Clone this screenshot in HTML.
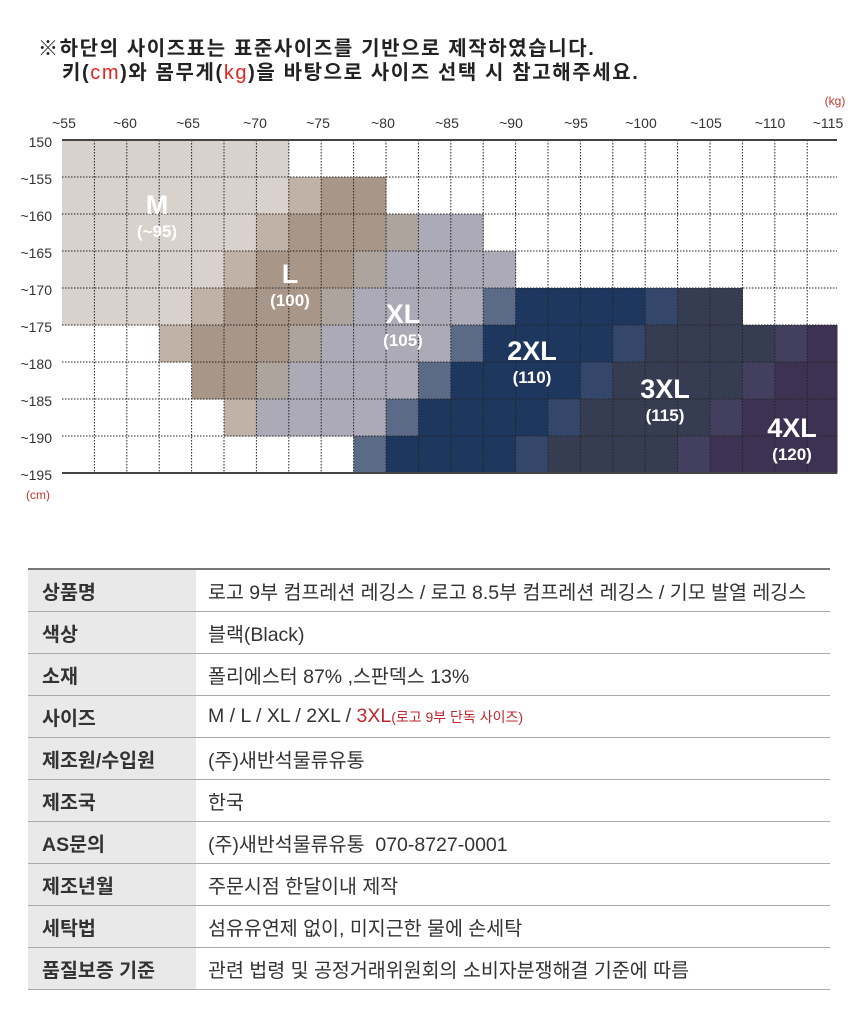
<!DOCTYPE html>
<html><head><meta charset="utf-8"><style>
body{margin:0;width:860px;height:1020px;background:#fff;font-family:"Liberation Sans","Noto Sans CJK KR",sans-serif;position:relative;overflow:hidden}
.h{position:absolute;font-size:20px;font-weight:bold;color:#222;white-space:nowrap;letter-spacing:1.6px}
.r{color:#e8231f;font-weight:normal}
table{position:absolute;left:28px;top:568px;width:802px;border-collapse:collapse;font-size:19.5px;color:#333;table-layout:fixed}
td{height:41px;border-bottom:1px solid #aaa;padding:0;white-space:nowrap}
td.l{background:#e9e9e9;padding-left:14px;font-weight:bold;color:#333}
td.v{padding-left:12px}
tr:first-child td{border-top:2px solid #777}
</style></head><body>
<div class="h" style="left:38px;top:32px">※하단의 사이즈표는 표준사이즈를 기반으로 제작하였습니다.</div>
<div class="h" style="left:62px;top:56px">키(<span class="r">cm</span>)와 몸무게(<span class="r">kg</span>)을 바탕으로 사이즈 선택 시 참고해주세요.</div>
<svg id="s" width="860" height="520" style="position:absolute;left:0;top:0" font-family="Liberation Sans, sans-serif"></svg>
<table>
<colgroup><col style="width:168px"><col></colgroup>
<tr><td class="l">상품명</td><td class="v">로고 9부 컴프레션 레깅스 / 로고 8.5부 컴프레션 레깅스 / 기모 발열 레깅스</td></tr>
<tr><td class="l">색상</td><td class="v">블랙(Black)</td></tr>
<tr><td class="l">소재</td><td class="v">폴리에스터 87% ,스판덱스 13%</td></tr>
<tr><td class="l">사이즈</td><td class="v">M / L / XL / 2XL / <span style="color:#c0272d">3XL<span style="font-size:14px">(로고 9부 단독 사이즈)</span></span></td></tr>
<tr><td class="l">제조원/수입원</td><td class="v">(주)새반석물류유통</td></tr>
<tr><td class="l">제조국</td><td class="v">한국</td></tr>
<tr><td class="l">AS문의</td><td class="v">(주)새반석물류유통&nbsp; 070-8727-0001</td></tr>
<tr><td class="l">제조년월</td><td class="v">주문시점 한달이내 제작</td></tr>
<tr><td class="l">세탁법</td><td class="v">섬유유연제 없이, 미지근한 물에 손세탁</td></tr>
<tr><td class="l">품질보증 기준</td><td class="v">관련 법령 및 공정거래위원회의 소비자분쟁해결 기준에 따름</td></tr>
</table>
<script>
var C={A:"#d9d1cc",T:"#c1b2a7",U:"#a89688",G:"#aea49e",X:"#abaab6",S:"#5b6a86",N:"#1e375e",M:"#34476a",D:"#363d52",Q:"#433f5f",P:"#3d3252",_:null};
var rows=[
"AAAAAAA_________________",
"AAAAAAATUU______________",
"AAAAAATUUUGXX___________",
"AAAAATUUUGXXXX__________",
"AAAATUUUGXXXXSNNNNMDD___",
"___TUUUGXXXXSNNNNMDDDDQP",
"____UUGXXXXSNNNNMDDDDQPP",
"_____TXXXXSNNNNMDDDDQPPP",
"_________SNNNNMDDDDQPPPP"];
var x0=62,cw=32.4,y0=140,rh=37,s='';
for(var r=0;r<9;r++)for(var c=0;c<24;c++){var k=rows[r][c];if(k&&C[k]){var w=(c==23)?837-(x0+c*cw):cw;s+='<rect x="'+(x0+c*cw)+'" y="'+(y0+r*rh)+'" width="'+(w+0.5)+'" height="'+(rh+0.5)+'" fill="'+C[k]+'"/>';}}
for(var c=1;c<24;c++)s+='<line x1="'+(x0+c*cw)+'" y1="140" x2="'+(x0+c*cw)+'" y2="473" stroke="#222" stroke-width="1" stroke-dasharray="1.5,1.5"/>';
for(var r=1;r<9;r++)s+='<line x1="62" y1="'+(y0+r*rh)+'" x2="837" y2="'+(y0+r*rh)+'" stroke="#222" stroke-width="1" stroke-dasharray="1.5,1.5"/>';
s+='<line x1="62" y1="140" x2="837" y2="140" stroke="#444" stroke-width="2"/><line x1="62" y1="473" x2="837" y2="473" stroke="#444" stroke-width="2"/>';
var kx=["~55","~60","~65","~70","~75","~80","~85","~90","~95","~100","~105","~110","~115"];
var px=[64,125,188,255,318,383,447,511,576,641,706,770,828];
for(var i=0;i<13;i++)s+='<text x="'+px[i]+'" y="128" font-size="14" text-anchor="middle" fill="#333">'+kx[i]+'</text>';
var ky=["150","~155","~160","~165","~170","~175","~180","~185","~190","~195"];
for(var i=0;i<10;i++)s+='<text x="52" y="'+(147+i*37)+'" font-size="14" text-anchor="end" fill="#333">'+ky[i]+'</text>';
s+='<text x="835" y="105" font-size="12" text-anchor="middle" fill="#c0392b">(kg)</text><text x="38" y="499" font-size="12" text-anchor="middle" fill="#c0392b">(cm)</text>';
var L=[["M","(~95)",157,214],["L","(100)",290,283],["XL","(105)",403,323],["2XL","(110)",532,360],["3XL","(115)",665,398],["4XL","(120)",792,437]];
L.forEach(function(a){s+='<text x="'+a[2]+'" y="'+a[3]+'" font-size="27" font-weight="bold" text-anchor="middle" fill="#fff">'+a[0]+'</text><text x="'+a[2]+'" y="'+(a[3]+23)+'" font-size="17" font-weight="bold" text-anchor="middle" fill="#fff">'+a[1]+'</text>';});
document.getElementById('s').innerHTML=s;
</script>
</body></html>
